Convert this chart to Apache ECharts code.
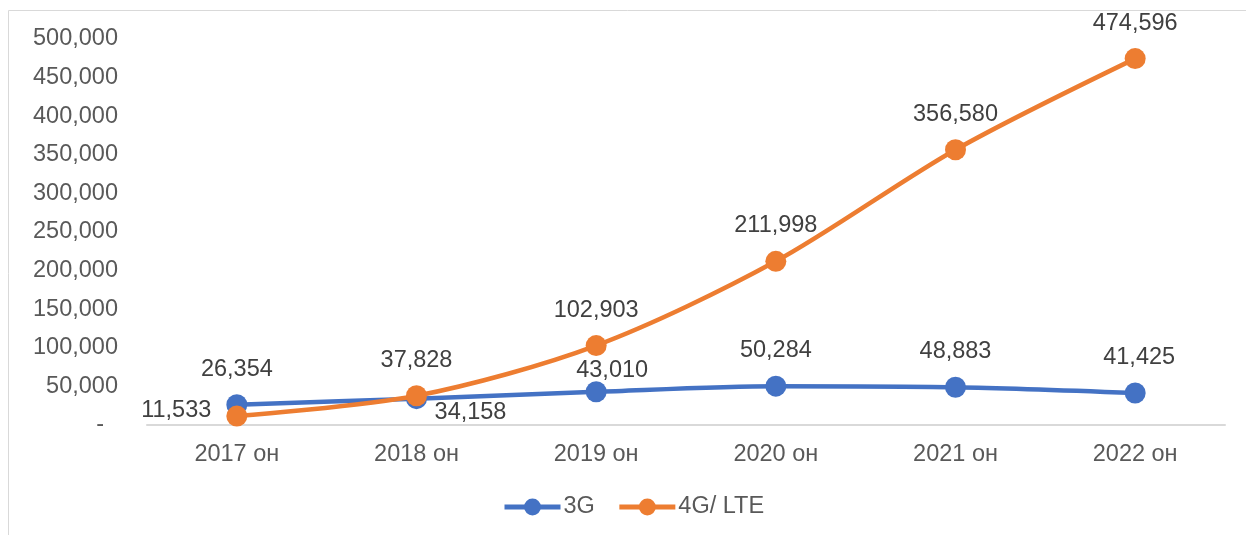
<!DOCTYPE html>
<html>
<head>
<meta charset="utf-8">
<script src="https://cdn.jsdelivr.net/npm/echarts@6/dist/echarts.min.js"></script>
<style>
  html, body { margin: 0; padding: 0; background: #fff; }
  #chart { width: 1246px; height: 535px; }
</style>
</head>
<body>
<div id="chart"></div>
<script>
// Data
const years = ['2017 он', '2018 он', '2019 он', '2020 он', '2021 он', '2022 он'];
const values3G = [26354, 34158, 43010, 50284, 48883, 41425];
const values4G = [11533, 37828, 102903, 211998, 356580, 474596];

const chart = echarts.init(document.getElementById('chart'));
const font = 'Liberation Sans, Arial, sans-serif';
const fs = 23.5;
const fmt = v => v.toLocaleString('en-US');

// label placement per point, like the source
const pos3G = [
    { position: 'top' },
    { position: 'bottom', offset: [54, -22] },
    { position: 'top', offset: [16, 14] },
    { position: 'top' },
    { position: 'top' },
    { position: 'top', offset: [4, 0] }
];
const pos4G = [
    { position: 'left', offset: [-2, -6] },
    { position: 'top' },
    { position: 'top' },
    { position: 'top' },
    { position: 'top' },
    { position: 'top' }
];

const makeData = (vals, pos) => vals.map((v, i) => ({ value: v, label: pos[i] }));

chart.setOption({
    animation: false,
    textStyle: { fontFamily: font },
    graphic: [{
        type: 'rect',
        shape: { x: 8.5, y: 10.5, width: 1260, height: 560 },
        style: { fill: 'none', stroke: '#d9d9d9', lineWidth: 1 },
        silent: true
    }],
    grid: { left: 147, right: 21, top: 39, bottom: 110 },
    legend: {
        top: 490,
        left: 497,
        itemWidth: 56,
        itemHeight: 21,
        itemGap: 22,
        lineStyle: { width: 5 },
        textStyle: { fontSize: fs, color: '#595959', fontFamily: font, padding: [0, 0, 0, -2] },
        data: ['3G', '4G/ LTE']
    },
    xAxis: {
        type: 'category',
        data: years,
        boundaryGap: true,
        axisLine: { lineStyle: { color: '#d9d9d9', width: 2 } },
        axisTick: { show: false },
        axisLabel: { fontSize: fs, color: '#595959', margin: 18, fontFamily: font }
    },
    yAxis: {
        type: 'value',
        min: 0,
        max: 500000,
        interval: 50000,
        axisLine: { show: false },
        axisTick: { show: false },
        splitLine: { show: false },
        axisLabel: {
            fontSize: fs,
            color: '#595959',
            margin: 29,
            fontFamily: font,
            formatter: v => v === 0 ? '{d|-}' : fmt(v),
            rich: { d: { fontSize: fs, color: '#595959', padding: [0, 14, 0, 0] } }
        }
    },
    series: [
        {
            name: '3G',
            type: 'line',
            smooth: 0.3,
            data: makeData(values3G, pos3G),
            symbol: 'circle',
            symbolSize: 21,
            lineStyle: { color: '#4472C4', width: 4.5 },
            itemStyle: { color: '#4472C4' },
            label: {
                show: true,
                distance: 13,
                fontSize: fs,
                color: '#404040',
                fontFamily: font,
                formatter: p => fmt(p.value)
            },
            z: 2
        },
        {
            name: '4G/ LTE',
            type: 'line',
            smooth: 0.3,
            data: makeData(values4G, pos4G),
            symbol: 'circle',
            symbolSize: 21,
            lineStyle: { color: '#ED7D31', width: 4.5 },
            itemStyle: { color: '#ED7D31' },
            label: {
                show: true,
                distance: 13,
                fontSize: fs,
                color: '#404040',
                fontFamily: font,
                formatter: p => fmt(p.value)
            },
            z: 3
        }
    ]
});
</script>
</body>
</html>
